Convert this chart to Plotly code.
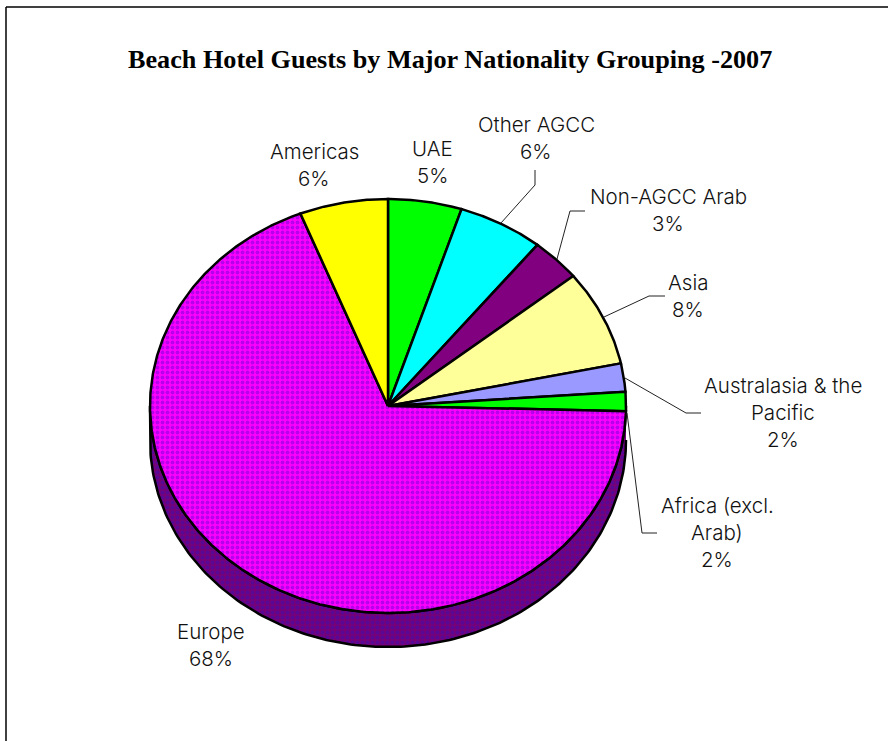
import numpy as np
import plotly.graph_objects as go

# ---- data ----
categories = ["UAE", "Other AGCC", "Non-AGCC Arab", "Asia", "Australasia & the Pacific",
              "Africa (excl. Arab)", "Europe", "Americas"]
values = [5.0, 5.8, 3.4, 7.5, 2.2, 1.5, 68.6, 6.0]
pct_labels = ["5%", "6%", "3%", "8%", "2%", "2%", "68%", "6%"]
label_lines = [["UAE"], ["Other AGCC"], ["Non-AGCC Arab"], ["Asia"], ["Australasia & the", "Pacific"],
               ["Africa (excl.", "Arab)"], ["Europe"], ["Americas"]]
title_text = "Beach Hotel Guests by Major Nationality Grouping -2007"

# ---- styles / layout ----
W, H = 888, 741
CX, CY, RX, RY, DEPTH = 388, 406, 238, 207, 34
colors = ["#00FF00", "#00FFFF", "#800080", "#FFFF99", "#9999FF", "#00FF00", "#FF00FF", "#FFFF00"]
EUROPE = 6
LABEL_FONT = "Inter"
LABEL_SIZE = 20.5
label_pos = [(432, 148), (536, 124), (668, 196), (688, 283), (783, 385), (717, 505), (211, 631), (314, 151)]
LINE_H = 27
leaders = [
    [(501, 223), (535, 185), (535, 170)],
    [(557, 259), (570, 211), (585, 211)],
    [(604, 317), (649, 296), (665, 296)],
    [(625, 378), (686, 413), (701, 413)],
    [(627, 413), (642, 533), (657, 533)],
]

fx = lambda p: p / W
fy = lambda p: 1 - p / H

fig = go.Figure()

# rim of the 3-D disc
dy = DEPTH / RY
t = np.radians(np.linspace(90, 270, 181))
rx = np.concatenate([np.sin(t), np.sin(t[::-1])])
ry = np.concatenate([np.cos(t), np.cos(t[::-1]) - dy])
fig.add_trace(go.Scatter(x=rx, y=ry, mode="lines", fill="toself", fillcolor="#800080",
                         fillpattern=dict(shape=".", size=5, solidity=0.45, fgcolor="#3A10B0", bgcolor="#760078"),
                         line=dict(color="black", width=2.5), hoverinfo="skip", showlegend=False))

# slices, clockwise from 12 o'clock
start = 0.0
total = sum(values)
for i, (name, v) in enumerate(zip(categories, values)):
    a0 = start / total * 2 * np.pi
    a1 = (start + v) / total * 2 * np.pi
    start += v
    a = np.linspace(a0, a1, max(int(v * 8), 8))
    xs = np.concatenate([[0], np.sin(a), [0]])
    ys = np.concatenate([[0], np.cos(a), [0]])
    kw = {}
    if i == EUROPE:
        kw["fillpattern"] = dict(shape=".", size=5, solidity=0.45, fgcolor="#7000D8", bgcolor="#FF00FF")
    fig.add_trace(go.Scatter(x=xs, y=ys, mode="lines", fill="toself", fillcolor=colors[i],
                             line=dict(color="black", width=2.5), name=name,
                             text=f"{name}: {pct_labels[i]}", hoverinfo="text", showlegend=False, **kw))

annotations = [dict(text=f"<b>{title_text}</b>", x=fx(450), y=fy(60), xref="paper", yref="paper",
                    showarrow=False, xanchor="center", yanchor="middle",
                    font=dict(family="Liberation Serif", size=26.2, color="black"))]
for lines, pct, (lx, ly) in zip(label_lines, pct_labels, label_pos):
    for j, s in enumerate(lines + [pct]):
        annotations.append(dict(text=s, x=fx(lx), y=fy(ly + j * LINE_H), xref="paper", yref="paper",
                                showarrow=False, xanchor="center", yanchor="middle",
                                font=dict(family=LABEL_FONT, size=LABEL_SIZE, weight=300, color="#111111")))

shapes = []
for pts in leaders:
    for (x0, y0), (x1, y1) in zip(pts[:-1], pts[1:]):
        shapes.append(dict(type="line", xref="paper", yref="paper", x0=fx(x0), y0=fy(y0), x1=fx(x1), y1=fy(y1),
                           line=dict(color="#222222", width=1)))
# outer frame
shapes.append(dict(type="line", xref="paper", yref="paper", x0=fx(6), y0=fy(7), x1=1, y1=fy(7),
                   line=dict(color="black", width=1.5)))
shapes.append(dict(type="line", xref="paper", yref="paper", x0=fx(6), y0=fy(7), x1=fx(6), y1=0,
                   line=dict(color="black", width=1.5)))

fig.update_layout(
    width=W, height=H, margin=dict(l=0, r=0, t=0, b=0),
    paper_bgcolor="white", plot_bgcolor="white",
    xaxis=dict(range=[-CX / RX, (W - CX) / RX], visible=False, fixedrange=True),
    yaxis=dict(range=[(CY - H) / RY, CY / RY], visible=False, fixedrange=True),
    annotations=annotations, shapes=shapes, showlegend=False,
)
fig.write_html("out.html", config=dict(displayModeBar=False),
               post_script="document.body.style.margin='0';document.documentElement.style.overflow='hidden';")
